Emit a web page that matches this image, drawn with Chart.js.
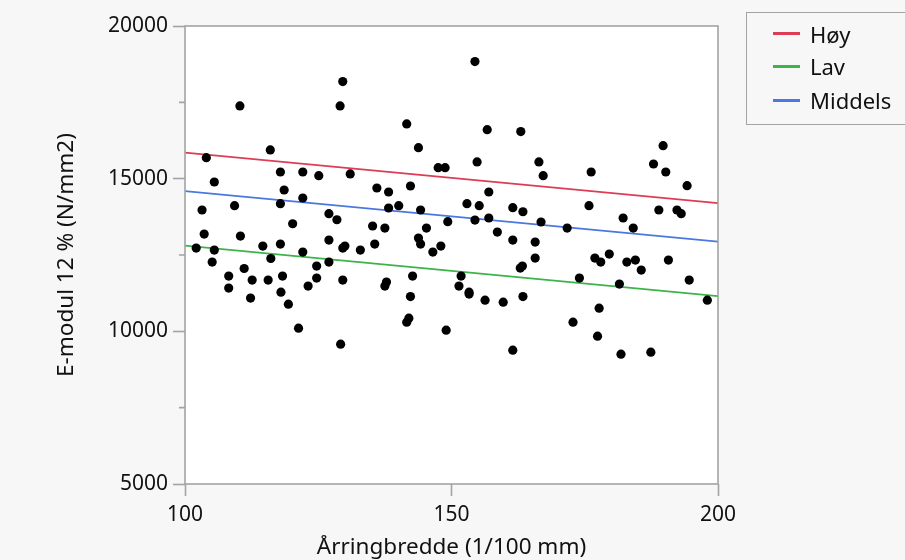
<!DOCTYPE html>
<html>
<head>
<meta charset="utf-8">
<script src="https://cdn.jsdelivr.net/npm/chart.js@4.4.1/dist/chart.umd.min.js"></script>
<style>
  html, body { margin: 0; padding: 0; background: #f7f7f7; }
  #wrap { position: relative; width: 905px; height: 560px; overflow: hidden; }
  #legend {
    position: absolute; left: 746px; top: 12px; width: 175px; height: 113px;
    box-sizing: border-box; border: 1.5px solid #a3a3a3;
    font-family: "Noto Sans"; font-size: 22px; color: #111;
  }
  .item { position: absolute; left: 26px; height: 30px; display: flex; align-items: center; white-space: nowrap; }
  .swatch { width: 27px; height: 3px; margin-right: 10px; }
</style>
</head>
<body>
<div id="wrap">
  <canvas id="scatter" width="905" height="560"></canvas>
  <div id="legend"></div>
</div>
<script>
// ring width (1/100 mm) and E-modulus at 12 % moisture
const ringWidth = [
  129.6, 129.1, 110.3, 141.6, 143.8, 116.0, 104.0, 147.5, 148.8, 117.9,
  122.1, 125.1, 131.0, 105.5, 142.3, 118.6, 136.0, 138.2, 109.3, 117.9,
  122.1, 103.2, 138.2, 140.1, 144.2, 127.0, 128.5, 120.2, 149.3, 135.2,
  137.5, 145.3, 103.6, 110.4, 143.8, 144.2, 127.0, 102.1, 105.5, 114.6,
  117.9, 130.0, 129.6, 135.6, 132.9, 148.0, 146.5, 122.1, 116.1, 105.1,
  127.0, 124.7, 111.1, 108.2, 118.3, 112.6, 115.6, 124.7, 129.6, 137.8,
  137.5, 142.7, 108.2, 123.1, 118.0, 112.3, 142.3, 119.4, 142.0, 141.6,
  121.3, 149.0, 129.2,
  154.4, 156.7, 163.0, 189.7, 154.8, 166.4, 167.2, 176.2, 187.9, 190.2,
  194.2, 157.0, 152.9, 155.2, 161.5, 163.4, 175.8, 188.9, 192.3, 193.1,
  182.2, 184.1, 154.4, 157.0, 166.8, 171.7, 158.6, 161.5, 165.7, 165.7,
  163.3, 162.9, 176.9, 178.0, 179.6, 182.9, 184.5, 185.6, 190.7, 151.8,
  151.4, 153.3, 153.3, 156.3, 159.7, 163.4, 174.0, 181.5, 194.6, 198.0,
  177.7, 172.8, 177.4, 161.5, 181.8, 187.4
];
const eModulus = [
  18180, 17383, 17383, 16793, 16016, 15941, 15688, 15360, 15360, 15219,
  15219, 15098, 15154, 14891, 14760, 14629, 14695, 14563, 14114, 14180,
  14367, 13973, 14039, 14114, 13973, 13852, 13655, 13524, 13590, 13449,
  13383, 13383, 13186, 13121, 13055, 12858, 12989, 12727, 12662, 12793,
  12858, 12793, 12727, 12858, 12662, 12793, 12596, 12596, 12386, 12268,
  12268, 12137, 12058, 11809, 11809, 11678, 11678, 11743, 11678, 11612,
  11481, 11809, 11416, 11481, 11284, 11088, 11140, 10891, 10432, 10301,
  10104, 10038, 9579,
  18836, 16606, 16541, 16082, 15547, 15547, 15098, 15219, 15481, 15219,
  14770, 14563, 14180, 14114, 14049, 13917, 14114, 13973, 13973, 13852,
  13711, 13383, 13645, 13711, 13580, 13383, 13252, 12989, 12924, 12399,
  12137, 12071, 12399, 12268, 12530, 12268, 12334, 12006, 12334, 11809,
  11481, 11284, 11219, 11022, 10956, 11140, 11743, 11547, 11678, 11022,
  10760, 10301, 9842, 9383, 9251, 9317
];

// fitted lines per density group, at x = 100 and x = 200
const fitX = [100, 200];
const fitHigh = [15850, 14200];
const fitLow = [12810, 11150];
const fitMid = [14590, 12940];
const groupNames = ['Høy', 'Lav', 'Middels'];
const lineColors = ['#de3c54', '#3cb44a', '#4a78e0'];

const xTicks = [100, 150, 200];
const yTicks = [5000, 10000, 15000, 20000];
const yMinorTicks = [7500, 12500, 17500];

const frameColor = '#a3a3a3';
const textColor = '#111111';

const points = ringWidth.map((x, i) => ({ x: x, y: eModulus[i] }));
const fits = [fitHigh, fitLow, fitMid].map(f => fitX.map((x, i) => ({ x: x, y: f[i] })));

const lineSets = fits.map((d, i) => ({
  label: groupNames[i],
  data: d,
  showLine: true,
  borderColor: lineColors[i],
  borderWidth: 1.8,
  pointRadius: 0,
  order: 1
}));

const framePlugin = {
  id: 'frame',
  beforeDatasetsDraw(chart) {
    const { ctx, chartArea: a } = chart;
    ctx.save();
    ctx.fillStyle = '#ffffff';
    ctx.fillRect(a.left, a.top, a.right - a.left, a.bottom - a.top);
    ctx.restore();
  },
  afterDraw(chart) {
    const { ctx, chartArea: a, scales } = chart;
    ctx.save();
    ctx.strokeStyle = frameColor;
    ctx.lineWidth = 1.6;
    ctx.strokeRect(a.left, a.top, a.right - a.left, a.bottom - a.top);
    ctx.beginPath();
    yMinorTicks.forEach(v => {
      const py = scales.y.getPixelForValue(v);
      ctx.moveTo(a.left, py);
      ctx.lineTo(a.left - 6, py);
    });
    ctx.stroke();
    ctx.restore();
  }
};

new Chart(document.getElementById('scatter'), {
  type: 'scatter',
  data: {
    datasets: [
      {
        label: 'E-modul',
        data: points,
        backgroundColor: '#000000',
        borderWidth: 0,
        pointRadius: 4.6,
        order: 0
      },
      ...lineSets
    ]
  },
  options: {
    responsive: false,
    animation: false,
    layout: { padding: { left: 48, right: 187, top: 26, bottom: 0 } },
    plugins: {
      legend: { display: false },
      tooltip: { enabled: false }
    },
    scales: {
      x: {
        type: 'linear',
        min: 100,
        max: 200,
        afterBuildTicks: s => { s.ticks = xTicks.map(v => ({ value: v })); },
        afterFit: s => { s.height = 76; },
        border: { display: false },
        grid: { drawOnChartArea: false, tickLength: 12, tickColor: frameColor, tickWidth: 1.6 },
        ticks: {
          color: textColor, padding: 6, maxRotation: 0,
          font: { family: 'Noto Sans', size: 21 },
          callback: v => String(v)
        },
        title: {
          display: true,
          text: 'Årringbredde (1/100 mm)',
          color: textColor,
          padding: { top: 0, bottom: 1 },
          font: { family: 'Noto Sans', size: 22.5, lineHeight: 1 }
        }
      },
      y: {
        type: 'linear',
        min: 5000,
        max: 20000,
        afterBuildTicks: s => { s.ticks = yTicks.map(v => ({ value: v })); },
        afterFit: s => { s.width = 137; },
        border: { display: false },
        grid: { drawOnChartArea: false, tickLength: 12, tickColor: frameColor, tickWidth: 1.6 },
        ticks: {
          color: textColor, padding: 5,
          font: { family: 'Noto Sans', size: 21 },
          callback: v => String(v)
        },
        title: {
          display: true,
          text: 'E-modul 12 % (N/mm2)',
          color: textColor,
          padding: { top: 7, bottom: 0 },
          font: { family: 'Noto Sans', size: 22.5, lineHeight: 1 }
        }
      }
    }
  },
  plugins: [framePlugin]
});

// legend box built from the fitted-line groups
const legend = document.getElementById('legend');
const rowCenters = [20.7, 53, 87.3];
groupNames.forEach((name, i) => {
  const item = document.createElement('div');
  item.className = 'item';
  item.style.top = (rowCenters[i] - 15) + 'px';
  const sw = document.createElement('span');
  sw.className = 'swatch';
  sw.style.background = lineColors[i];
  const tx = document.createElement('span');
  tx.textContent = name;
  item.appendChild(sw);
  item.appendChild(tx);
  legend.appendChild(item);
});
</script>
</body>
</html>
